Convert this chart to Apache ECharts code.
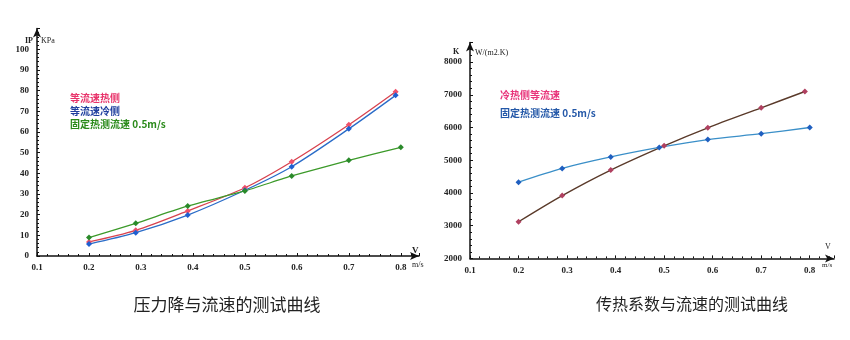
<!DOCTYPE html>
<html><head><meta charset="utf-8">
<script src="https://cdn.jsdelivr.net/npm/echarts@6/dist/echarts.min.js"></script>
<style>html,body{margin:0;padding:0;background:#fff}#c{width:850px;height:340px}</style>
</head><body><div id="c"></div>
<script>
// Left chart: pressure drop vs flow velocity
const leftX = [0.2, 0.29, 0.39, 0.5, 0.59, 0.7, 0.79];
const leftGreenX = [0.2, 0.29, 0.39, 0.5, 0.59, 0.7, 0.8];
const hotSide = [6.8, 12.4, 21.8, 33, 45.6, 63.5, 79.5];
const coldSide = [5.8, 11.3, 19.8, 31.8, 43.2, 61.5, 77.7];
const fixedHot = [8.9, 15.8, 24.2, 31.5, 38.7, 46.3, 52.6];
const leftNames = ['等流速热侧', '等流速冷侧', '固定热测流速 0.5m/s'];
// Right chart: heat transfer coefficient vs flow velocity
const rightX = [0.2, 0.29, 0.39, 0.5, 0.59, 0.7, 0.79];
const rightBlueX = [0.2, 0.29, 0.39, 0.49, 0.59, 0.7, 0.8];
const equalFlow = [3120, 3920, 4700, 5440, 5990, 6600, 7100];
const fixedHotK = [4330, 4750, 5100, 5390, 5630, 5810, 6000];
const rightNames = ['冷热侧等流速', '固定热测流速 0.5m/s'];
const titles = ['压力降与流速的测试曲线', '传热系数与流速的测试曲线'];

const pair = (xs, ys) => xs.map((x, i) => [x, ys[i]]);
const tickFont = {fontFamily: 'Liberation Serif', fontWeight: 'bold', fontSize: 9, color: '#222'};
const axisBase = {
  axisLine: {show: true, onZero: false, lineStyle: {color: '#111', width: 1.5}, symbol: ['none', 'arrow'], symbolSize: [6, 9]},
  axisTick: {show: true, inside: true, length: 3, lineStyle: {color: '#111'}},
  minorTick: {show: true, splitNumber: 5, length: 2, lineStyle: {color: '#111'}},
  splitLine: {show: false}
};
const mk = (o) => Object.assign({}, JSON.parse(JSON.stringify(axisBase)), o);
const lbl = (o) => Object.assign({showMaxLabel: false}, tickFont, o);

const chart = echarts.init(document.getElementById('c'));
chart.setOption({
  backgroundColor: '#fff',
  animation: false,
  title: [
    {text: titles[0], left: 222, top: 291, textAlign: 'center', textStyle: {fontFamily: 'Noto Sans CJK SC', fontSize: 17, fontWeight: 'normal', color: '#222'}},
    {text: titles[1], left: 687, top: 291, textAlign: 'center', textStyle: {fontFamily: 'Noto Sans CJK SC', fontSize: 16, fontWeight: 'normal', color: '#222'}}
  ],
  legend: [
    {orient: 'vertical', left: 65, top: 92, padding: 0, icon: 'none', itemWidth: 0, itemHeight: 8, itemGap: 1,
     textStyle: {fontFamily: 'Noto Sans CJK SC', fontSize: 10, fontWeight: 'bold', lineHeight: 12, padding: 0},
     data: [
       {name: leftNames[0], textStyle: {color: '#e8336a'}},
       {name: leftNames[1], textStyle: {color: '#1e3e9e'}},
       {name: leftNames[2], textStyle: {color: '#2a8a1a'}}
     ]},
    {orient: 'vertical', left: 495, top: 89, padding: 0, icon: 'none', itemWidth: 0, itemHeight: 8, itemGap: 6,
     textStyle: {fontFamily: 'Noto Sans CJK SC', fontSize: 10, fontWeight: 'bold', lineHeight: 12, padding: 0},
     data: [
       {name: rightNames[0], textStyle: {color: '#e8337a'}},
       {name: rightNames[1], textStyle: {color: '#2458a8'}}
     ]}
  ],
  grid: [
    {left: 37, top: 28.6, width: 382, height: 227.4},
    {left: 470, top: 42.4, width: 364, height: 216}
  ],
  xAxis: [
    mk({gridIndex: 0, type: 'value', min: 0.1, max: 0.835, interval: 0.1,
        axisLabel: lbl({margin: 7, formatter: v => v.toFixed(1)})}),
    mk({gridIndex: 1, type: 'value', min: 0.1, max: 0.85, interval: 0.1,
        axisLabel: lbl({margin: 8, formatter: v => v.toFixed(1)})})
  ],
  yAxis: [
    mk({gridIndex: 0, type: 'value', min: 0, max: 110, interval: 10, axisLabel: lbl({formatter: v => String(v)})}),
    mk({gridIndex: 1, type: 'value', min: 2000, max: 8600, interval: 1000, axisLabel: lbl({formatter: v => String(v)})})
  ],
  graphic: [
    {type: 'text', left: 25, top: 37, style: {text: 'IP', font: 'bold 8px Liberation Serif', fill: '#222'}},
    {type: 'text', left: 41, top: 37, style: {text: 'KPa', font: '8px Liberation Serif', fill: '#222'}},
    {type: 'text', left: 412, top: 246, style: {text: 'V', font: 'bold 9px Liberation Serif', fill: '#222'}},
    {type: 'text', left: 412, top: 261, style: {text: 'm/s', font: '8px Liberation Serif', fill: '#222'}},
    {type: 'text', left: 453, top: 48, style: {text: 'K', font: 'bold 8px Liberation Serif', fill: '#222'}},
    {type: 'text', left: 475, top: 49, style: {text: 'W/(m2.K)', font: '8px Liberation Serif', fill: '#222'}},
    {type: 'text', left: 825, top: 243, style: {text: 'V', font: '8px Liberation Serif', fill: '#222'}},
    {type: 'text', left: 822, top: 262, style: {text: 'm/s', font: '7px Liberation Serif', fill: '#222'}}
  ],
  series: [
    {name: leftNames[0], type: 'line', xAxisIndex: 0, yAxisIndex: 0, smooth: 0.3, data: pair(leftX, hotSide),
     symbol: 'diamond', symbolSize: 6, lineStyle: {color: '#d8424e', width: 1.3}, itemStyle: {color: '#f0506a'}},
    {name: leftNames[1], type: 'line', xAxisIndex: 0, yAxisIndex: 0, smooth: 0.3, data: pair(leftX, coldSide),
     symbol: 'diamond', symbolSize: 6, lineStyle: {color: '#2a6cc8', width: 1.3}, itemStyle: {color: '#1f5fd0'}},
    {name: leftNames[2], type: 'line', xAxisIndex: 0, yAxisIndex: 0, smooth: 0.15, data: pair(leftGreenX, fixedHot),
     symbol: 'diamond', symbolSize: 6, lineStyle: {color: '#3c9a2a', width: 1.3}, itemStyle: {color: '#2a8a2a'}},
    {name: rightNames[0], type: 'line', xAxisIndex: 1, yAxisIndex: 1, smooth: 0.3, data: pair(rightX, equalFlow),
     symbol: 'diamond', symbolSize: 6, lineStyle: {color: '#5a3a2a', width: 1.4}, itemStyle: {color: '#b04060'}},
    {name: rightNames[1], type: 'line', xAxisIndex: 1, yAxisIndex: 1, smooth: 0.3, data: pair(rightBlueX, fixedHotK),
     symbol: 'diamond', symbolSize: 6, lineStyle: {color: '#3a8fc8', width: 1.3}, itemStyle: {color: '#1f5fc0'}}
  ]
});
</script></body></html>
